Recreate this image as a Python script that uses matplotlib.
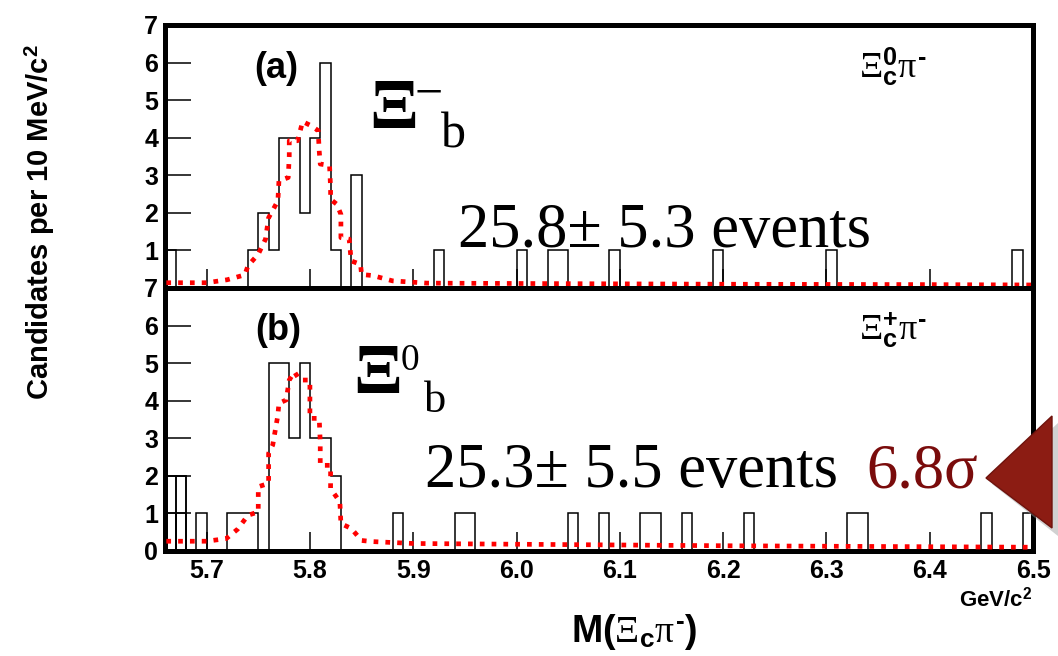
import numpy as np
import matplotlib.pyplot as plt
from matplotlib.patches import Polygon

plt.rcParams['font.family'] = 'Liberation Sans'
plt.rcParams['mathtext.fontset'] = 'custom'
plt.rcParams['mathtext.rm'] = 'Liberation Serif'
plt.rcParams['mathtext.it'] = 'Liberation Serif'
plt.rcParams['mathtext.bf'] = 'Liberation Sans:bold'

W, H = 1058, 656

# --- data -------------------------------------------------------------------
BIN_W = 0.01
X_LO, X_HI = 5.66, 6.50

# (a) Xi_c^0 pi^- : lower bin edge -> candidates
top_bins = [5.66, 5.74, 5.75, 5.76, 5.77, 5.78, 5.79, 5.80, 5.81, 5.82, 5.84,
            5.92, 6.00, 6.03, 6.04, 6.09, 6.19, 6.30, 6.48]
top_counts = [1, 1, 2, 1, 4, 4, 2, 4, 6, 1, 3,
              1, 1, 1, 1, 1, 1, 1, 1]

# (b) Xi_c^+ pi^-
bot_bins = [5.66, 5.67, 5.69, 5.72, 5.73, 5.74, 5.76, 5.77, 5.78, 5.79, 5.80,
            5.81, 5.82, 5.88, 5.94, 5.95, 6.05, 6.08, 6.12, 6.13, 6.16, 6.22,
            6.32, 6.33, 6.45, 6.49]
bot_counts = [2, 2, 1, 1, 1, 1, 5, 5, 3, 5, 3,
              3, 2, 1, 1, 1, 1, 1, 1, 1, 1, 1,
              1, 1, 1, 1]
# boxed bins at the left edge of (b)
box_bins = [5.66, 5.67]
box_outer = [2, 2]
box_inner = [1, 1]

# fit curves (red dotted)
top_fit_x = [5.661, 5.700, 5.720, 5.737, 5.740, 5.750, 5.757, 5.760, 5.769,
             5.770, 5.779, 5.780, 5.780, 5.788, 5.793, 5.801, 5.808, 5.809,
             5.810, 5.819, 5.820, 5.820, 5.826, 5.830, 5.830, 5.838, 5.840,
             5.849, 5.850, 5.861, 5.880, 5.913, 6.000, 6.200, 6.400, 6.500]
top_fit_y = [0.14, 0.14, 0.22, 0.35, 0.59, 0.90, 1.30, 1.87, 2.32,
             2.85, 2.94, 3.52, 3.92, 3.92, 4.43, 4.32, 4.19, 3.65,
             3.30, 3.26, 2.67, 2.36, 2.23, 1.96, 1.34, 1.30, 0.72,
             0.63, 0.36, 0.33, 0.19, 0.13, 0.12, 0.10, 0.09, 0.08]

bot_fit_x = [5.661, 5.700, 5.719, 5.730, 5.740, 5.750, 5.750, 5.760, 5.760,
             5.764, 5.769, 5.770, 5.777, 5.780, 5.785, 5.790, 5.800, 5.800,
             5.809, 5.810, 5.810, 5.820, 5.820, 5.829, 5.830, 5.840, 5.850,
             5.861, 5.900, 6.000, 6.200, 6.350, 6.500]
bot_fit_y = [0.26, 0.26, 0.33, 0.58, 0.95, 1.04, 1.71, 1.80, 2.60,
             2.82, 3.62, 3.93, 4.02, 4.55, 4.77, 4.55, 4.55, 3.53,
             3.53, 2.90, 2.28, 2.28, 1.66, 1.31, 0.73, 0.60, 0.28,
             0.25, 0.20, 0.18, 0.14, 0.12, 0.10]

x_ticks = [5.7, 5.8, 5.9, 6.0, 6.1, 6.2, 6.3, 6.4, 6.5]

HY = '\u2010'  # short hyphen used in the labels


def px(x, y):
    return x / W, 1 - y / H


def full_hist(bins, counts):
    edges = np.round(np.arange(X_LO, X_HI + BIN_W / 2, BIN_W), 3)
    h = np.zeros(len(edges) - 1)
    for b, c in zip(bins, counts):
        h[int(round((b - X_LO) / BIN_W))] = c
    return edges, h


def style_axes(ax, show_xlabels, yticks):
    ax.set_xlim(X_LO, X_HI)
    ax.set_ylim(0, 7)
    for s in ax.spines.values():
        s.set_linewidth(3.6)
    ax.set_xticks(x_ticks)
    ax.set_xticklabels(["%.1f" % t for t in x_ticks] if show_xlabels else [])
    ax.set_yticks(yticks)
    ax.set_yticklabels([str(t) for t in yticks])
    ax.tick_params(axis='x', direction='in', length=14, width=1.1, pad=6,
                   labelsize=18)
    ax.tick_params(axis='y', direction='in', length=19, width=1.1, pad=5,
                   labelsize=18)
    for lab in ax.get_xticklabels() + ax.get_yticklabels():
        lab.set_fontweight('bold')


fig = plt.figure(figsize=(W / 100, H / 100), dpi=100)
left, width = 165.3 / W, (1033 - 165.3) / W
ax_t = fig.add_axes([left, 1 - 288 / H, width, 263 / H])
ax_b = fig.add_axes([left, 1 - 551 / H, width, 263 / H])

fit_kw = dict(color='red', lw=3.4, linestyle=(0, (1, 1.5)),
              dash_capstyle='butt', zorder=3)

edges, h = full_hist(top_bins, top_counts)
ax_t.stairs(h, edges, color='black', lw=1.1, baseline=0)
ax_t.plot(top_fit_x, top_fit_y, **fit_kw)
style_axes(ax_t, False, [1, 2, 3, 4, 5, 6, 7])

edges, h = full_hist(bot_bins, bot_counts)
ax_b.stairs(h, edges, color='black', lw=1.1, baseline=0)
ax_b.bar(box_bins, box_outer, width=BIN_W, align='edge', fill=False,
         edgecolor='black', lw=1.1)
ax_b.bar(box_bins, box_inner, width=BIN_W, align='edge', fill=False,
         edgecolor='black', lw=1.1)
ax_b.plot(bot_fit_x, bot_fit_y, **fit_kw)
style_axes(ax_b, True, [0, 1, 2, 3, 4, 5, 6, 7])

# --- panel annotations ------------------------------------------------------
fig.text(*px(276, 69), '(a)', fontsize=26, fontweight='bold',
         ha='center', va='center')
fig.text(*px(278, 330), '(b)', fontsize=26, fontweight='bold',
         ha='center', va='center')

fig.text(*px(859, 77),
         r'$\Xi_{\mathbf{c}}^{\mathbf{0}}\pi^{\mathbf{%s}}$' % HY,
         fontsize=26, ha='left', va='baseline')
fig.text(*px(859, 340),
         r'$\Xi_{\mathbf{c}}^{\mathbf{+}}\pi^{\mathbf{%s}}$' % HY,
         fontsize=26, ha='left', va='baseline')

serif = 'Liberation Serif'
fig.text(*px(369, 128), 'Ξ', family=serif, fontweight='bold', fontsize=52,
         ha='left', va='baseline')
fig.text(*px(415, 108), '−', family=serif, fontsize=36, ha='left',
         va='baseline')
fig.text(*px(441, 147), 'b', family=serif, fontsize=36, ha='left',
         va='baseline')

fig.text(*px(353, 393), 'Ξ', family=serif, fontweight='bold', fontsize=52,
         ha='left', va='baseline')
fig.text(*px(401, 370), '0', family=serif, fontsize=27, ha='left',
         va='baseline')
fig.text(*px(424, 412), 'b', family=serif, fontsize=32, ha='left',
         va='baseline')

fig.text(*px(458, 247), '25.8± 5.3 events', family=serif, fontsize=45,
         ha='left', va='baseline')
fig.text(*px(425, 487), '25.3± 5.5 events', family=serif, fontsize=45,
         ha='left', va='baseline')
fig.text(*px(866, 487), '6.8σ', family=serif, fontsize=45, color='#7a0c0c',
         ha='left', va='baseline')

# big arrow pointing at the significance
shadow = Polygon([px(992, 484), px(1058, 423), px(1058, 536)],
                 closed=True, transform=fig.transFigure, facecolor='#999999',
                 edgecolor='none', alpha=0.45)
arrow = Polygon([px(986, 478), px(1052, 416), px(1052, 528)],
                closed=True, transform=fig.transFigure, facecolor='#8c1c13',
                edgecolor='#6e120c', lw=1)
fig.add_artist(shadow)
fig.add_artist(arrow)

# --- axis titles -------------------------------------------------------------
fig.text(*px(40, 222), r'Candidates per 10 MeV/c$^{\mathbf{2}}$',
         rotation=90, fontsize=21, fontweight='bold', ha='center',
         va='center')
fig.text(*px(634, 632),
         r'$\mathbf{M(}\Xi_{\mathbf{c}}\pi^{\mathbf{%s}}\mathbf{)}$' % HY,
         fontsize=27, ha='center', va='center')
fig.text(*px(1032, 606), r'GeV/c$^{\mathbf{2}}$', fontsize=16,
         fontweight='bold', ha='right', va='baseline')

fig.savefig('out.png', dpi=100)
